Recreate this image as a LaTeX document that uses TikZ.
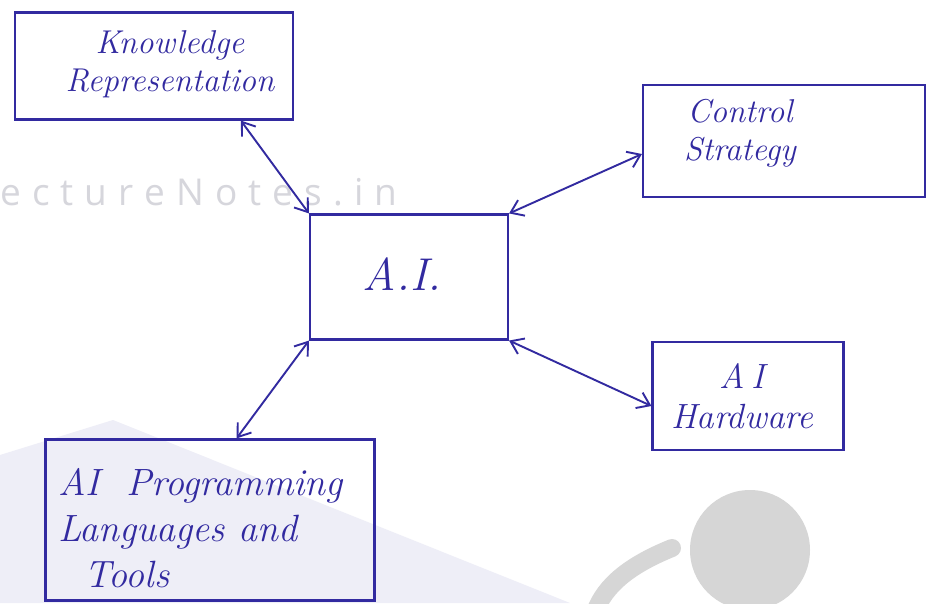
\documentclass[tikz,border=0pt]{standalone}
\usepackage{fontspec}
\newfontfamily\wmfont[LetterSpace=30]{Open Sans}
\usetikzlibrary{arrows.meta,calc}
\definecolor{ink}{RGB}{50,42,160}
\definecolor{wmgray}{RGB}{214,214,220}
\definecolor{wmlav}{RGB}{238,238,247}
\definecolor{wmdisc}{RGB}{214,214,214}

\begin{document}
\begin{tikzpicture}[x=1pt,y=-1pt,
  box/.style={draw=ink, line width=2.1pt, rectangle, inner sep=0pt},
  hand/.style={text=ink, font=\fontsize{33}{38}\selectfont\itshape, align=center, inner sep=0pt},
  link/.style={draw=ink, line width=1.9pt,
    {Straight Barb[length=12pt,width=17pt]}-{Straight Barb[length=12pt,width=17pt]}},
]
\fill[white] (0,0) rectangle (932,603);
\useasboundingbox (0,0) rectangle (932,603);

% faint publisher mark in the background
\fill[wmlav] (0,455) -- (113,420) -- (570,603) -- (0,603) -- cycle;
\fill[wmdisc] (750,550) circle (60pt);
\draw[wmdisc, line width=18pt, line cap=round] (672,548) .. controls (630,565) and (605,585) .. (595,612);
\node[anchor=base west, inner sep=0pt, text=wmgray,
      font=\wmfont\fontsize{37}{37}\selectfont] (wm) at (0,205) {ectureNotes.in};

% boxes
\node[box, minimum width=278pt, minimum height=107pt] (kr) at (154,66) {};
\node[hand] (krt) at (170,64) {Knowledge\\Representation};

\node[box, minimum width=282pt, minimum height=112pt] (cs) at (784,141) {};
\node[hand] (cst) at (740,133) {Control\\Strategy};

\node[box, minimum width=198pt, minimum height=125pt] (ai) at (409,277) {};
\node[hand, font=\fontsize{46}{50}\selectfont\itshape] (ait) at (402,274) {A.I.};

\node[box, minimum width=191pt, minimum height=108pt] (hw) at (748,396) {};
\node[hand, font=\fontsize{35}{40}\selectfont\itshape] (hwt) at (742,396) {A\,I\\Hardware};

\node[box, minimum width=329pt, minimum height=161pt] (pl) at (210,520) {};
\node[hand, font=\fontsize{38}{46}\selectfont\itshape, align=left, anchor=west] (plt) at (58,528)
  {AI\ \ Programming\\Languages and\\\hspace*{0.7em}Tools};

% connectors
\draw[link] ($(kr.south west)!0.81!(kr.south east)$) -- (ai.north west);
\draw[link] (ai.north east) -- ($(cs.west)+(0,13)$);
\draw[link] (ai.south east) -- ($(hw.west)+(0,10)$);
\draw[link] (ai.south west) -- ($(pl.north west)!0.58!(pl.north east)$);
\end{tikzpicture}
\end{document}
